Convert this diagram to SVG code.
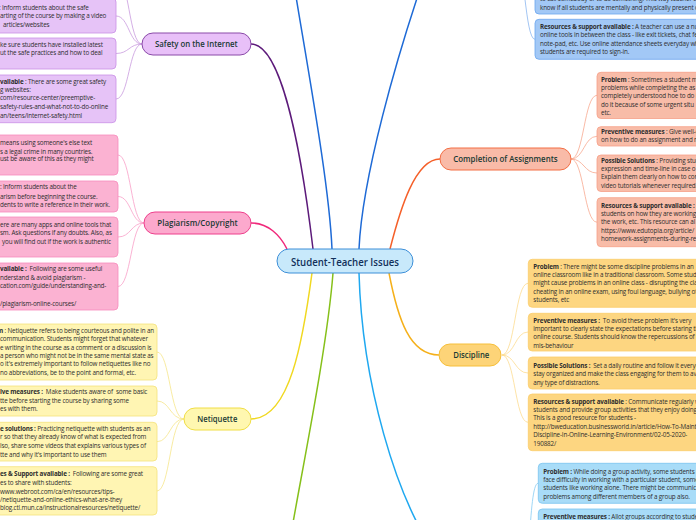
<svg xmlns="http://www.w3.org/2000/svg" width="696" height="520" viewBox="0 0 696 520">
<style>
.bt{font-family:"Open Sans","Liberation Sans",sans-serif;font-size:6.3px;letter-spacing:-0.15px;fill:#2e2e2e;white-space:pre}
.b{font-weight:bold}
.lb{font-family:"Open Sans","Liberation Sans",sans-serif;font-size:9px;font-weight:600;fill:#1a3a34}
.ctr{font-family:"Open Sans","Liberation Sans",sans-serif;font-size:11.5px;font-weight:600;fill:#12305a}
.pu{fill:#e6c3f7;stroke:#c98fe6;stroke-width:0.8}
.pk{fill:#fbb2d2;stroke:#f78cbd;stroke-width:0.8}
.ye{fill:#fff5b3;stroke:#f4e27c;stroke-width:0.8}
.bl{fill:#a2c8f6;stroke:#6ba6ef;stroke-width:0.8}
.sa{fill:#f8bca8;stroke:#f6a088;stroke-width:0.8}
.or{fill:#fdd681;stroke:#fbcd6a;stroke-width:0.8}
.cy{fill:#a8dcf8;stroke:#78c4f0;stroke-width:0.8}
</style>
<rect width="696" height="520" fill="#ffffff"/>
<g id="connectors" fill="none">
<path d="M313,249 C300,140 280,44 251,44" stroke="#5c1a7a" stroke-width="1.5"/>
<path d="M287,249 C280,235 268,223 251,223" stroke="#f0287a" stroke-width="1.5"/>
<path d="M332,249 C329,180 306,60 290,-40" stroke="#1e6ad6" stroke-width="1.5"/>
<path d="M359,249 C362,180 395,60 430,-40" stroke="#1e6ad6" stroke-width="1.5"/>
<path d="M390,249 C400,210 415,159 440,159" stroke="#f5602a" stroke-width="1.5"/>
<path d="M312,273 C303,340 290,419 251,419" stroke="#f0d820" stroke-width="1.5"/>
<path d="M333,273 C327,350 300,480 290,540" stroke="#86c01a" stroke-width="1.5"/>
<path d="M359,273 C362,380 395,500 440,560" stroke="#1fa8f0" stroke-width="1.5"/>
<path d="M389,273 C398,320 410,355 439,355" stroke="#f5b01a" stroke-width="1.5"/>
<g stroke="#c99ade" stroke-width="0.8">
<path d="M142,44 C129,44 129,-25 116,-25"/>
<path d="M142,44 C129,44 129,16 116,16"/>
<path d="M142,44 C129,44 129,53.5 116,53.5"/>
<path d="M142,44 C129,44 129,99 116,99"/>
</g>
<g stroke="#f9a0c8" stroke-width="0.8">
<path d="M144,223 C131,223 131,155 118,155"/>
<path d="M144,223 C131,223 131,196.5 118,196.5"/>
<path d="M144,223 C131,223 131,237 118,237"/>
<path d="M144,223 C131,223 131,286.5 118,286.5"/>
</g>
<g stroke="#f6e68a" stroke-width="0.8">
<path d="M184,419 C170,419 170,352 157,352"/>
<path d="M184,419 C170,419 170,401 157,401"/>
<path d="M184,419 C170,419 170,441.7 157,441.7"/>
<path d="M184,419 C170,419 170,491 157,491"/>
</g>
<g stroke="#8ab6f0" stroke-width="0.8">
<path d="M515,-40 C525,-40 525,-8 535,-8"/>
<path d="M515,-40 C525,-40 525,39.3 535,39.3"/>
</g>
<g stroke="#f8a88f" stroke-width="0.8">
<path d="M571,159 C584,159 584,95.3 597,95.3"/>
<path d="M571,159 C584,159 584,136.3 597,136.3"/>
<path d="M571,159 C584,159 584,173 597,173"/>
<path d="M571,159 C584,159 584,222.2 597,222.2"/>
</g>
<g stroke="#fddc90" stroke-width="0.8">
<path d="M502,355 C515,355 515,283.3 528,283.3"/>
<path d="M502,355 C515,355 515,332 528,332"/>
<path d="M502,355 C515,355 515,373 528,373"/>
<path d="M502,355 C515,355 515,422.3 528,422.3"/>
</g>
<g stroke="#86ccf2" stroke-width="0.8">
<path d="M522,600 C530,600 528,483.3 538,483.3"/>
<path d="M522,600 C530,600 528,540 538,540"/>
</g>
</g>

<g id="center">
<rect x="277" y="249" width="136" height="24" rx="12" fill="#c8e9fb" stroke="#3d8fd8" stroke-width="1"/>
<text class="ctr" x="291" y="265.5" textLength="108" lengthAdjust="spacingAndGlyphs">Student-Teacher Issues</text>
</g>

<g id="safety">
<rect x="142" y="33" width="109" height="22" rx="11" fill="#e8c0f8" stroke="#8a4aa8" stroke-width="1"/>
<text class="lb" x="155" y="47" textLength="82.7" lengthAdjust="spacingAndGlyphs">Safety on the Internet</text>
</g>
<g id="safety-1">
<rect class="pu" x="-10" y="-2" width="126" height="35" rx="4"/>
<text class="bt" x="-1" y="9.5">: Inform students about the safe</text>
<text class="bt" x="0" y="18">arting of the course by making a video</text>
<text class="bt" x="3" y="26.5">articles/websites</text>
</g>
<g id="safety-2">
<rect class="pu" x="-10" y="38" width="126" height="31" rx="4"/>
<text class="bt" x="0" y="47">ke sure students have installed latest</text>
<text class="bt" x="0" y="55.3">ut the safe practices and how to deal</text>
</g>
<g id="safety-3">
<rect class="pu" x="-10" y="75" width="126" height="47.7" rx="4"/>
<text class="bt" x="0" y="83.5"><tspan class="b">vailable</tspan> : There are some great safety</text>
<text class="bt" x="0" y="92">g websites:</text>
<text class="bt" x="0" y="100.3">com/resource-center/preemptive-</text>
<text class="bt" x="0" y="109">safety-rules-and-what-not-to-do-online</text>
<text class="bt" x="0" y="117.5">an/teens/internet-safety.html</text>
</g>

<g id="plagiarism">
<rect x="144" y="212" width="107" height="22" rx="11" fill="#fca9cd" stroke="#ee3f8c" stroke-width="1"/>
<text class="lb" x="157.3" y="226" textLength="80.3" lengthAdjust="spacingAndGlyphs">Plagiarism/Copyright</text>
</g>
<g id="plagiarism-1">
<rect class="pk" x="-10" y="135" width="128" height="40" rx="4"/>
<text class="bt" x="0" y="145">means using someone's else text</text>
<text class="bt" x="0" y="153.5">s a legal crime in many countries.</text>
<text class="bt" x="0" y="161.3">ust be aware of this as they might</text>
</g>
<g id="plagiarism-2">
<rect class="pk" x="-10" y="181" width="128" height="31" rx="4"/>
<text class="bt" x="0" y="189">: Inform students about the</text>
<text class="bt" x="0" y="198.5">arism before beginning the course.</text>
<text class="bt" x="0" y="206.5">dents to write a reference in their work.</text>
</g>
<g id="plagiarism-3">
<rect class="pk" x="-10" y="217" width="128" height="40" rx="4"/>
<text class="bt" x="0" y="226.5">ere are many apps and online tools that</text>
<text class="bt" x="0" y="234.7">sm. Ask questions if any doubts. Also, as</text>
<text class="bt" x="2" y="243.5">you will find out if the work is authentic</text>
</g>
<g id="plagiarism-4">
<rect class="pk" x="-10" y="263" width="128" height="47" rx="4"/>
<text class="bt" x="0" y="271.3"><tspan class="b">vailable :</tspan>  Following are some useful</text>
<text class="bt" x="0" y="279.7">nderstand &amp; avoid plagiarism -</text>
<text class="bt" x="0" y="288">cation.com/guide/understanding-and-</text>
<text class="bt" x="0" y="306">/plagiarism-online-courses/</text>
</g>

<g id="netiquette">
<rect x="184" y="408" width="67" height="22" rx="11" fill="#fff7b0" stroke="#f0de45" stroke-width="1"/>
<text class="lb" x="197.3" y="422" textLength="40" lengthAdjust="spacingAndGlyphs">Netiquette</text>
</g>
<g id="netiquette-1">
<rect class="ye" x="-10" y="324" width="167" height="56" rx="4"/>
<text class="bt" x="-3" y="333"><tspan class="b">m</tspan> : Netiquette refers to being courteous and polite in an</text>
<text class="bt" x="0" y="341.3">communication. Students might forget that whatever</text>
<text class="bt" x="0" y="349.6">e writing in the course as a comment or a discussion is</text>
<text class="bt" x="0" y="358">a person who might not be in the same mental state as</text>
<text class="bt" x="0" y="366.3">o it's extremely important to follow netiquettes like no</text>
<text class="bt" x="0" y="374.7">no abbreviations, be to the point and formal, etc.</text>
</g>
<g id="netiquette-2">
<rect class="ye" x="-10" y="386" width="167" height="30" rx="4"/>
<text class="bt" x="0" y="394.3"><tspan class="b">ive measures :</tspan>  Make students aware of  some basic</text>
<text class="bt" x="0" y="402.7">tte before starting the course by sharing some</text>
<text class="bt" x="0" y="411">es with them.</text>
</g>
<g id="netiquette-3">
<rect class="ye" x="-10" y="422.3" width="167" height="38.7" rx="4"/>
<text class="bt" x="0" y="430.7"><tspan class="b">e solutions :</tspan> Practicing netiquette with students as an</text>
<text class="bt" x="0" y="439.3">r so that they already know of what is expected from</text>
<text class="bt" x="0" y="448">lso, share some videos that explains various types of</text>
<text class="bt" x="0" y="456.7">tte and why it's important to use them</text>
</g>
<g id="netiquette-4">
<rect class="ye" x="-10" y="466.7" width="167" height="48.3" rx="4"/>
<text class="bt" x="0" y="476"><tspan class="b">es &amp; Support available :</tspan>  Following are some great</text>
<text class="bt" x="0" y="484.7">es to share with students:</text>
<text class="bt" x="0" y="493.5">www.webroot.com/ca/en/resources/tips-</text>
<text class="bt" x="0" y="502">/netiquette-and-online-ethics-what-are-they</text>
<text class="bt" x="0" y="509.8">blog.ctl.mun.ca/instructionalresources/netiquette/</text>
</g>

<g id="attendance-1">
<rect class="bl" x="535" y="-30" width="200" height="44" rx="4"/>
<text class="bt" x="540" y="1.2">to call somebody or to do something. This way teacher c</text>
<text class="bt" x="540" y="10.3">know if all students are mentally and physically present o</text>
</g>
<g id="attendance-2">
<rect class="bl" x="535" y="19.3" width="200" height="40" rx="4"/>
<text class="bt" x="540" y="28.5"><tspan class="b">Resources &amp; support available :</tspan> A teacher can use a num</text>
<text class="bt" x="540" y="37">online tools in between the class - like exit tickets, chat fe</text>
<text class="bt" x="540" y="45.5">note-pad, etc. Use online attendance sheets everyday wh</text>
<text class="bt" x="540" y="54">students are required to sign-in.</text>
</g>

<g id="completion">
<rect x="440" y="148" width="131" height="22" rx="11" fill="#f9bba8" stroke="#f36f45" stroke-width="1"/>
<text class="lb" x="453.3" y="162" textLength="104.3" lengthAdjust="spacingAndGlyphs">Completion of Assignments</text>
</g>
<g id="completion-1">
<rect class="sa" x="597" y="72.3" width="140" height="46.2" rx="4"/>
<text class="bt" x="601" y="81.7"><tspan class="b">Problem</tspan> : Sometimes a student m</text>
<text class="bt" x="601" y="90">problems while completing the as</text>
<text class="bt" x="601" y="98.3">completely understood hoe to do i</text>
<text class="bt" x="601" y="106.7">do it because of some urgent situ</text>
<text class="bt" x="601" y="115">etc.</text>
</g>
<g id="completion-2">
<rect class="sa" x="597" y="126.7" width="140" height="19.3" rx="4"/>
<text class="bt" x="601" y="134"><tspan class="b">Preventive measures</tspan> : Give well-d</text>
<text class="bt" x="601" y="142.4">on how to do an assignment and m</text>
</g>
<g id="completion-3">
<rect class="sa" x="597" y="155" width="140" height="36.5" rx="4"/>
<text class="bt" x="601" y="162.7"><tspan class="b">Possible Solutions</tspan> : Providing stud</text>
<text class="bt" x="601" y="171">expression and time-line in case o</text>
<text class="bt" x="601" y="179.3">Explain them clearly on how to con</text>
<text class="bt" x="601" y="187.7">video tutorials whenever required.</text>
</g>
<g id="completion-4">
<rect class="sa" x="597" y="197.7" width="140" height="49" rx="4"/>
<text class="bt" x="601" y="207.5"><tspan class="b">Resources &amp; support available :</tspan>  It</text>
<text class="bt" x="601" y="215.9">students on how they are working,</text>
<text class="bt" x="601" y="224.3">the work, etc. This resource can al</text>
<text class="bt" x="601" y="232.7">https://www.edutopia.org/article/</text>
<text class="bt" x="601" y="241.1">homework-assignments-during-re</text>
</g>

<g id="discipline">
<rect x="439" y="344" width="62" height="22" rx="11" fill="#fdd478" stroke="#f6bf3a" stroke-width="1"/>
<text class="lb" x="453.3" y="358" textLength="36" lengthAdjust="spacingAndGlyphs">Discipline</text>
</g>
<g id="discipline-1">
<rect class="or" x="528.3" y="259.3" width="200" height="48" rx="4"/>
<text class="bt" x="533.3" y="268.5"><tspan class="b">Problem</tspan> : There might be some discipline problems in an</text>
<text class="bt" x="533.3" y="277">online classroom like in a traditional classroom. Some stud</text>
<text class="bt" x="533.3" y="285.3">might cause problems in an online class - disrupting the cla</text>
<text class="bt" x="533.3" y="293.7">cheating in an online exam, using foul language, bullying ot</text>
<text class="bt" x="533.3" y="302">students, etc</text>
</g>
<g id="discipline-2">
<rect class="or" x="528.3" y="313.3" width="200" height="37.7" rx="4"/>
<text class="bt" x="533.3" y="322.7"><tspan class="b">Preventive measures :</tspan>  To avoid these problem it's very</text>
<text class="bt" x="533.3" y="331">important to clearly state the expectations before staring th</text>
<text class="bt" x="533.3" y="339.3">online course. Students should know the repercussions of t</text>
<text class="bt" x="533.3" y="347.5">mis-behaviour</text>
</g>
<g id="discipline-3">
<rect class="or" x="528.3" y="357" width="200" height="32" rx="4"/>
<text class="bt" x="533.3" y="367.7"><tspan class="b">Possible Solutions :</tspan>  Set a daily routine and follow it everyda</text>
<text class="bt" x="533.3" y="376.3">stay organized and make the class engaging for them to av</text>
<text class="bt" x="533.3" y="384.7">any type of distractions.</text>
</g>
<g id="discipline-4">
<rect class="or" x="528.3" y="394" width="200" height="56.7" rx="4"/>
<text class="bt" x="533.3" y="403.5"><tspan class="b">Resources &amp; support available</tspan> : Communicate regularly wi</text>
<text class="bt" x="533.3" y="411.9">students and provide group activities that they enjoy doing.</text>
<text class="bt" x="533.3" y="420.3">This is a good resource for students -</text>
<text class="bt" x="533.3" y="428.7">http://bweducation.businessworld.in/article/How-To-Maint</text>
<text class="bt" x="533.3" y="437.1">Discipline-In-Online-Learning-Environment/02-05-2020-</text>
<text class="bt" x="533.3" y="445.5">190882/</text>
</g>

<g id="group-1">
<rect class="cy" x="538.3" y="463.3" width="200" height="40" rx="4"/>
<text class="bt" x="543.3" y="473.5"><tspan class="b">Problem :</tspan> While doing a group activity, some students m</text>
<text class="bt" x="543.3" y="481.9">face difficulty in working with a particular student, some</text>
<text class="bt" x="543.3" y="490.3">students like working alone. There might be communica</text>
<text class="bt" x="543.3" y="498.7">problems among different members of a group also.</text>
</g>
<g id="group-2">
<rect class="cy" x="538.3" y="509" width="200" height="50" rx="4"/>
<text class="bt" x="543.3" y="518.5"><tspan class="b">Preventive measures :</tspan> Allot groups according to studen</text>
</g>
</svg>
